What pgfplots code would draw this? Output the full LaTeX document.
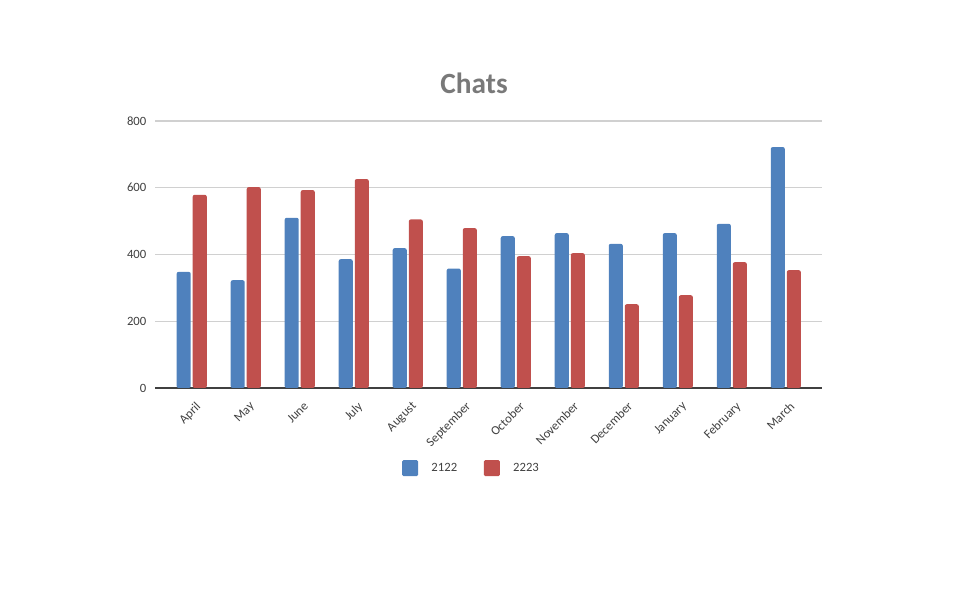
\documentclass[border=0pt]{standalone}
\usepackage{pgfplots}
\pgfplotsset{compat=1.18}
\usepackage{fontspec}
\setmainfont{Carlito}
\definecolor{cblue}{HTML}{4F81BD}
\definecolor{cred}{HTML}{C0504D}
\definecolor{ctext}{HTML}{404040}
\definecolor{cgrid}{HTML}{D0D0D0}
\begin{document}
\begin{tikzpicture}[x=1pt,y=1pt]
\useasboundingbox (0,0) rectangle (723.75,450);
\begin{axis}[
  at={(116.25pt,159pt)}, anchor=south west,
  scale only axis, width=500.25pt, height=200.25pt,
  ybar=1.5pt, bar width=0.26,
  xmin=-0.68, xmax=11.67, ymin=0, ymax=800,
  xtick=data,
  xticklabels={April,May,June,July,August,September,October,November,December,January,February,March},
  xticklabel style={rotate=45, anchor=north east, font=\fontsize{9.5}{11}\selectfont, text=ctext, inner sep=1pt, yshift=-7.5pt, xshift=-4pt},
  ytick={0,200,400,600,800},
  yticklabel style={font=\fontsize{9.5}{11}\selectfont, text=ctext, xshift=-3pt},
  /pgf/number format/assume math mode=true,
  ymajorgrids, grid style={cgrid, line width=0.8pt},
  axis x line*=bottom, axis y line*=left,
  x axis line style={ctext, line width=1pt, -},
  y axis line style={draw=none},
  major tick length=0pt,
  legend columns=2,
  legend style={at={(0.475,-0.30)}, anchor=center, draw=none, fill=none,
    font=\fontsize{9.5}{11}\selectfont, text=ctext,
    /tikz/every even column/.append style={column sep=18pt}},
  legend image code/.code={\fill[#1, rounded corners=1pt] (0pt,-6pt) rectangle (12pt,6pt);},
]
\addplot[fill=cblue, draw=none, rounded corners=1.5pt] coordinates {(0,348) (1,323) (2,510) (3,386) (4,419) (5,358) (6,455) (7,464) (8,432) (9,464) (10,492) (11,722)};
\addlegendentry{\hspace{8pt}2122}
\addplot[fill=cred, draw=none, rounded corners=1.5pt] coordinates {(0,579) (1,602) (2,593) (3,626) (4,505) (5,479) (6,395) (7,404) (8,251) (9,278) (10,377) (11,353)};
\addlegendentry{\hspace{8pt}2223}
\end{axis}
\node[font=\fontsize{22}{26}\selectfont\bfseries, text=gray!95!black, anchor=center] at (355.5, 387.75) {Chats};
\end{tikzpicture}
\end{document}
